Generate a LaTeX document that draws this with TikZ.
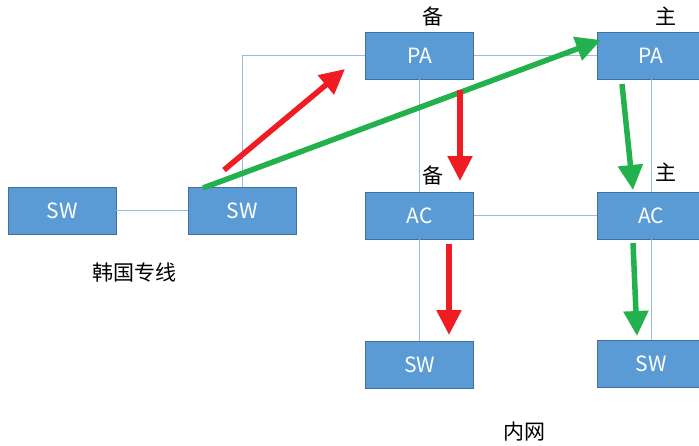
\documentclass[tikz,border=0pt]{standalone}
\usepackage{fontspec}
\setmainfont{Noto Sans CJK SC}
\usetikzlibrary{arrows.meta}
\definecolor{boxfill}{HTML}{5B9BD5}
\definecolor{boxedge}{HTML}{41719C}
\definecolor{linkblue}{HTML}{95BCE2}
\definecolor{pathred}{HTML}{F01C24}
\definecolor{pathgreen}{HTML}{22B14C}
\tikzset{
  dev/.style={draw=boxedge, fill=boxfill, minimum width=108pt, minimum height=47pt,
    inner sep=0pt, text=white, font=\fontsize{21}{21}\selectfont},
  link/.style={draw=linkblue, line width=1pt},
  flow/.style={line width=5.5pt, -{Triangle[length=25pt,width=24pt]}},
  tag/.style={font=\fontsize{21}{21}\selectfont}
}
\begin{document}
\begin{tikzpicture}[x=1pt, y=-1pt]
    \useasboundingbox (0,0) rectangle (699,445);

    % Devices
    \node[dev] (SWk) at (62,210.5) {SW};
    \node[dev] (SWg) at (242,210.5) {SW};
    \node[dev] (PAb) at (419.5,55.5) {PA};
    \node[dev] (PAm) at (651,55.5) {PA};
    \node[dev] (ACb) at (419.5,215.5) {AC};
    \node[dev] (ACm) at (651,215.5) {AC};
    \node[dev] (SWb) at (419.5,365) {SW};
    \node[dev] (SWm) at (651,364) {SW};

    % Links
    \draw[link] (SWk) -- (SWg);
    \draw[link] (SWg.north) |- (PAb.west);
    \draw[link] (PAb) -- (PAm);
    \draw[link] (PAb) -- (ACb);
    \draw[link] (PAm) -- (ACm);
    \draw[link] (ACb) -- (ACm);
    \draw[link] (ACb) -- (SWb);
    \draw[link] (ACm) -- (SWm);

    % Arrow end points
    \coordinate (R1) at (224,170);
    \coordinate (R2) at (345,69);
    \coordinate (G1) at (203,188);
    \coordinate (G2) at (601,40);
    \coordinate (R3) at (460,90);
    \coordinate (R4) at (460,181);
    \coordinate (G3) at (622,84);
    \coordinate (G4) at (633,190);
    \coordinate (R5) at (449,244);
    \coordinate (R6) at (449,335);
    \coordinate (G5) at (633,243);
    \coordinate (G6) at (637,336);

    % Backup path (red) and main path (green)
    \draw[flow, pathred] (R1) -- (R2);
    \draw[flow, pathgreen] (G1) -- (G2);
    \draw[flow, pathred] (R3) -- (R4);
    \draw[flow, pathgreen] (G3) -- (G4);
    \draw[flow, pathred] (R5) -- (R6);
    \draw[flow, pathgreen] (G5) -- (G6);

    % Labels
    \node[tag] (bPA) at (433,16) {备};
    \node[tag] (mPA) at (666,16) {主};
    \node[tag] (bAC) at (433,175) {备};
    \node[tag] (mAC) at (666,172) {主};
    \node[tag] (kr) at (134,273) {韩国专线};
    \node[tag] (lan) at (524,432) {内网};
\end{tikzpicture}
\end{document}
